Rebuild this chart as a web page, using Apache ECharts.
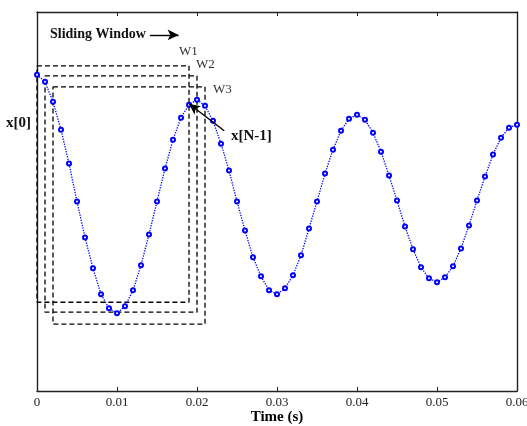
<!DOCTYPE html>
<html>
<head>
<meta charset="utf-8">
<script src="https://cdn.jsdelivr.net/npm/echarts@6/dist/echarts.min.js"></script>
<style>
	html,body{margin:0;padding:0;background:#fff;}
	#chart{width:527px;height:426px;}
</style>
</head>
<body>
<div id="chart"></div>
<script>
	// sample times (s)
	const times = [0,0.001,0.002,0.003,0.004,0.005,0.006,0.007,0.008,0.009,
		0.010,0.011,0.012,0.013,0.014,0.015,0.016,0.017,0.018,0.019,
		0.020,0.021,0.022,0.023,0.024,0.025,0.026,0.027,0.028,0.029,
		0.030,0.031,0.032,0.033,0.034,0.035,0.036,0.037,0.038,0.039,
		0.040,0.041,0.042,0.043,0.044,0.045,0.046,0.047,0.048,0.049,
		0.050,0.051,0.052,0.053,0.054,0.055,0.056,0.057,0.058,0.059,0.060]
	// signal samples
	const signal = [1.27,1.20,1.00,0.72,0.38,0.00,-0.36,-0.67,-0.93,-1.07,
		-1.12,-1.05,-0.89,-0.64,-0.33,0.00,0.33,0.62,0.84,0.97,
		1.02,0.96,0.81,0.58,0.31,0.00,-0.29,-0.56,-0.75,-0.89,
		-0.93,-0.87,-0.74,-0.54,-0.27,0.00,0.28,0.52,0.71,0.83,
		0.87,0.82,0.69,0.50,0.26,0.01,-0.25,-0.48,-0.66,-0.77,
		-0.81,-0.76,-0.65,-0.47,-0.24,0.01,0.25,0.47,0.64,0.74,0.77]
	const xTicks = [0,0.01,0.02,0.03,0.04,0.05,0.06]
	// sliding windows W1..W3
	const winNames = ['W1','W2','W3']
	const winStart = [0,0.001,0.002]
	const winEnd = [0.019,0.020,0.021]
	const winTop = [1.36,1.26,1.15]
	const winBottom = [-1.01,-1.11,-1.23]

	const serif = 'Liberation Serif'
	const myChart = echarts.init(document.getElementById('chart'))

	let pts = times.map((t,i)=>[t, signal[i]])

	let boxSeries = winNames.map((n,i)=>({
		name: n,
		type: 'line',
		xAxisIndex: 0,
		yAxisIndex: 0,
		symbol: 'none',
		silent: true,
		z: 3,
		lineStyle: {color:'#000', width:1.3, type:[5,3]},
		data: [[winStart[i],winTop[i]],[winEnd[i],winTop[i]],[winEnd[i],winBottom[i]],
			[winStart[i],winBottom[i]],[winStart[i],winTop[i]]]
	}))

	const frameLine = {show: true, onZero: false, lineStyle: {color: '#222', width: 1.4}}

	let option = {
		backgroundColor: '#fff',
		animation: false,
		grid: {left: 37, right: 10, top: 12, bottom: 35, containLabel: false, outerBoundsMode: 'none'},
		xAxis: [{
			type: 'value',
			min: 0, max: 0.06, interval: 0.01,
			name: 'Time (s)',
			nameLocation: 'middle',
			nameGap: 19,
			nameMoveOverlap: false,
			nameTextStyle: {fontFamily: serif, fontWeight: 'bold', fontSize: 15, color: '#000'},
			axisLine: frameLine,
			axisTick: {inside: true, length: 4, lineStyle: {color: '#222'}},
			axisLabel: {
				fontFamily: serif, fontSize: 13, color: '#222', margin: 5,
				formatter: v => xTicks.indexOf(+v.toFixed(2))>=0 ? (v===0?'0':v.toFixed(2)) : ''
			},
			splitLine: {show: false}
		},{
			type: 'value', position: 'top',
			min: 0, max: 0.06, interval: 0.01,
			axisLine: frameLine,
			axisTick: {inside: true, length: 4, lineStyle: {color: '#222'}},
			axisLabel: {show: false},
			splitLine: {show: false}
		}],
		yAxis: [{
			type: 'value', min: -1.9, max: 1.9,
			axisLine: frameLine,
			axisTick: {show: false}, axisLabel: {show: false}, splitLine: {show: false}
		},{
			type: 'value', position: 'right', min: -1.9, max: 1.9,
			axisLine: frameLine,
			axisTick: {show: false}, axisLabel: {show: false}, splitLine: {show: false}
		}],
		series: [
			...boxSeries,
			{
				name: 'x',
				type: 'line',
				data: pts,
				z: 4,
				symbol: 'emptyCircle',
				symbolSize: 4,
				showAllSymbol: true,
				itemStyle: {color: '#0000ff', borderWidth: 1.5},
				lineStyle: {color: '#0000ff', width: 1.3, type: 'dotted'},
				markLine: {
					silent: true,
					symbol: ['none','arrow'],
					symbolSize: [8,11],
					label: {show: false},
					lineStyle: {color: '#000', width: 1.4, type: 'solid'},
					data: [
						[{coord:[0.0141,1.67]},{coord:[0.0177,1.67]}],
						[{coord:[0.0234,0.71]},{coord:[0.0190,0.98]}]
					]
				}
			}
		],
		graphic: [
			{type:'text', left: 50, top: 27, style:{text:'Sliding Window', fontFamily: serif, fontWeight:'bold', fontSize:14, fill:'#111'}},
			{type:'text', left: 179, top: 45, style:{text:'W1', fontFamily: serif, fontSize:13, fill:'#333'}},
			{type:'text', left: 196, top: 58, style:{text:'W2', fontFamily: serif, fontSize:13, fill:'#333'}},
			{type:'text', left: 213, top: 83, style:{text:'W3', fontFamily: serif, fontSize:13, fill:'#333'}},
			{type:'text', left: 6, top: 116, style:{text:'x[0]', fontFamily: serif, fontWeight:'bold', fontSize:15, fill:'#111'}},
			{type:'text', left: 231, top: 129, style:{text:'x[N-1]', fontFamily: serif, fontWeight:'bold', fontSize:15, fill:'#111'}}
		]
	}
	myChart.setOption(option)
</script>
</body>
</html>
